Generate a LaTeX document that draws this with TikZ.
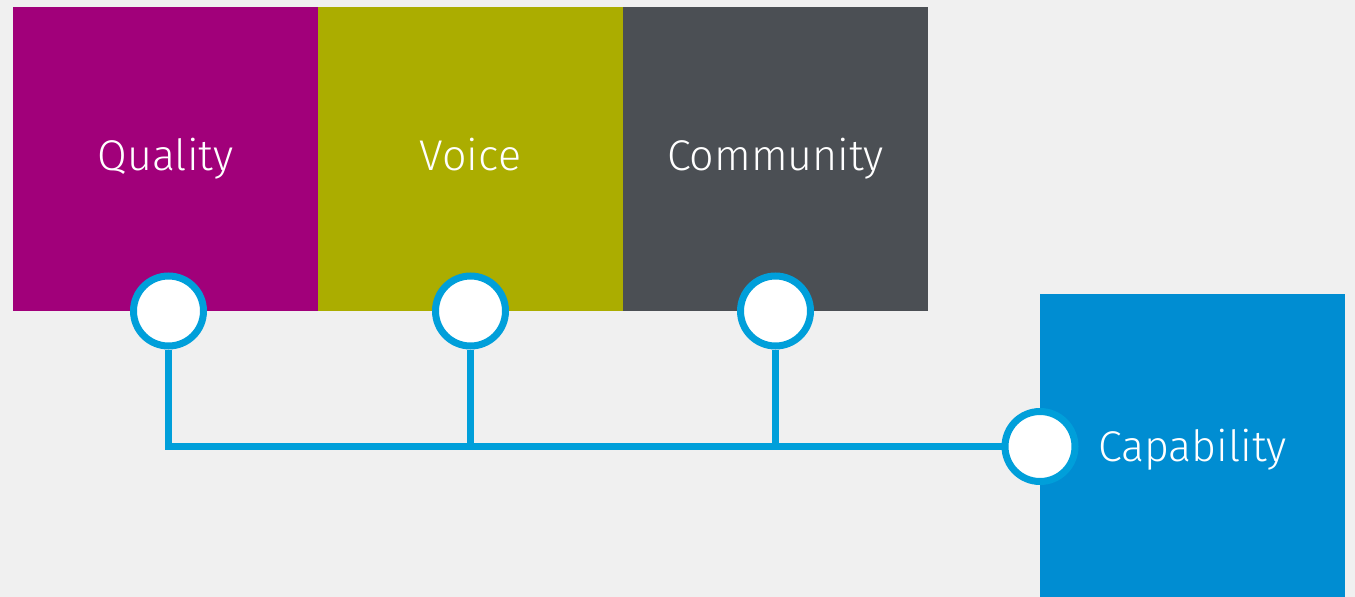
\documentclass[tikz,border=0pt]{standalone}
\usepackage{fontspec}
\setmainfont{Fira Sans}[UprightFont=* Light]
\usetikzlibrary{positioning}

\definecolor{bgGray}{HTML}{F0F0F0}
\definecolor{qualityMagenta}{HTML}{A1007A}
\definecolor{voiceOlive}{HTML}{ABAD00}
\definecolor{communityGray}{HTML}{4B4F54}
\definecolor{capabilityBlue}{HTML}{008DD2}
\definecolor{linkBlue}{HTML}{009FDA}

\begin{document}
\begin{tikzpicture}[x=1pt, y=-1pt,
    box/.style={minimum width=305pt, minimum height=304pt, inner sep=0pt, outer sep=0pt,
                text height=31pt, text depth=9pt,
                text=white, font=\fontsize{43}{46}\selectfont},
    knob/.style={circle, draw=linkBlue, line width=7pt, fill=white, minimum size=70pt, inner sep=0pt},
    link/.style={linkBlue, line width=7pt}]

    % Fundo
    \fill[bgGray] (0,0) rectangle (1355,597);

    % Blocos de cima
    \node[box, fill=qualityMagenta, anchor=north west] (quality) at (13,7) {Quality};
    \node[box, fill=voiceOlive, right=0pt of quality] (voice) {Voice};
    \node[box, fill=communityGray, right=0pt of voice] (community) {Community};

    % Bloco da direita
    \node[box, fill=capabilityBlue, minimum height=303pt, text depth=0pt, anchor=north west] (capability) at (1040,294) {Capability};

    % Ligações
    \node[knob] (qualityKnob) at ([xshift=3pt]quality.south) {};
    \node[knob] (voiceKnob) at (voice.south) {};
    \node[knob] (communityKnob) at (community.south) {};
    \node[knob] (capabilityKnob) at ([yshift=-1pt]capability.west) {};

    \draw[link] (qualityKnob) |- (capabilityKnob);
    \draw[link] (voiceKnob) -- (voiceKnob |- capabilityKnob);
    \draw[link] (communityKnob) -- (communityKnob |- capabilityKnob);
\end{tikzpicture}
\end{document}
